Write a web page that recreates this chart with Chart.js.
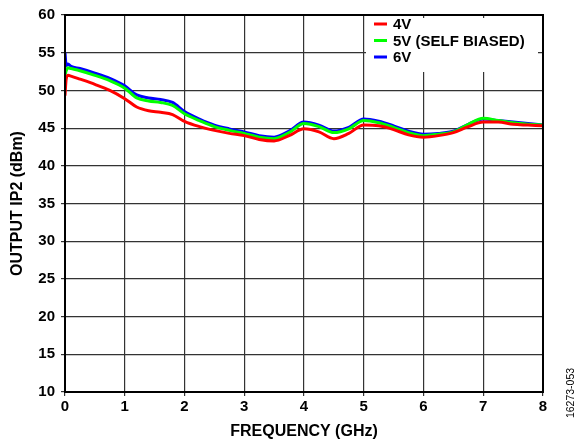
<!DOCTYPE html>
<html>
  <head>
    <title>Output IP2 vs Frequency</title>
    <script src="https://cdn.jsdelivr.net/npm/chart.js@4.4.1/dist/chart.umd.min.js"></script>
    <style>
      body { margin: 0; background: #fff; }
    </style>
  </head>
  <body>
    <canvas id="chart" width="579" height="441"></canvas>

    <script type="text/javascript">

      const freqs = [0, 0.02, 0.05, 0.1, 0.25, 0.5, 0.75, 1.0, 1.2, 1.4, 1.6, 1.8, 2.0, 2.25, 2.5, 2.75, 3.0, 3.25, 3.5, 3.75, 4.0, 4.25, 4.5, 4.75, 5.0, 5.25, 5.5, 5.75, 6.0, 6.25, 6.5, 6.75, 7.0, 7.25, 7.5, 7.75, 8.0];

      const ip2_4v = [49.3, 51.5, 52.0, 51.9, 51.5, 50.8, 50.0, 48.9, 47.8, 47.3, 47.1, 46.8, 45.9, 45.2, 44.7, 44.3, 44.0, 43.5, 43.3, 44.0, 44.9, 44.5, 43.6, 44.3, 45.4, 45.3, 44.8, 44.1, 43.8, 44.0, 44.4, 45.2, 45.8, 45.8, 45.5, 45.4, 45.3];
      const ip2_5v = [52.0, 52.6, 53.0, 52.9, 52.6, 52.0, 51.3, 50.3, 49.0, 48.6, 48.4, 48.0, 46.9, 46.0, 45.2, 44.7, 44.3, 43.8, 43.6, 44.4, 45.6, 45.2, 44.4, 44.9, 46.0, 45.7, 45.1, 44.4, 44.0, 44.2, 44.5, 45.5, 46.3, 46.0, 45.7, 45.5, 45.4];
      const ip2_6v = [55.0, 53.3, 53.5, 53.2, 52.9, 52.3, 51.6, 50.6, 49.4, 49.0, 48.8, 48.4, 47.2, 46.2, 45.4, 44.9, 44.5, 44.0, 43.8, 44.6, 45.8, 45.4, 44.6, 45.1, 46.2, 45.9, 45.3, 44.6, 44.2, 44.3, 44.6, 45.5, 46.2, 46.0, 45.8, 45.6, 45.4];

      const seriesLabels = ['4V', '5V (SELF BIASED)', '6V'];
      const seriesColors = ['#ff0000', '#00ff00', '#0000ff'];

      const font = "'Liberation Sans', Arial, sans-serif";

      function toPoints(ys) {
        return freqs.map((f, i) => ({ x: f, y: ys[i] }));
      }

      // white legend box inside the plot, drawn over the grid
      const boxLegend = {
        id: 'boxLegend',
        beforeDatasetsDraw(chart) {
          const ctx = chart.ctx;
          const a = chart.chartArea;
          ctx.save();
          ctx.fillStyle = '#fff';
          ctx.fillRect(a.right - 177, a.top + 3, 172, 54);
          ctx.font = 'bold 15px ' + font;
          ctx.textBaseline = 'middle';
          chart.data.datasets.forEach((ds, i) => {
            const y = a.top + 9 + i * 16.5;
            ctx.strokeStyle = ds.borderColor;
            ctx.lineWidth = 3;
            ctx.beginPath();
            ctx.moveTo(a.right - 169, y);
            ctx.lineTo(a.right - 156, y);
            ctx.stroke();
            ctx.fillStyle = '#000';
            ctx.fillText(ds.label, a.right - 150, y + 1);
          });
          ctx.restore();
        },
        afterDraw(chart) {
          const ctx = chart.ctx;
          const a = chart.chartArea;
          ctx.save();
          ctx.strokeStyle = '#000';
          ctx.lineWidth = 2;
          ctx.strokeRect(a.left, a.top, a.right - a.left, a.bottom - a.top);
          // figure number on the right edge
          ctx.translate(571, 393);
          ctx.rotate(-Math.PI / 2);
          ctx.font = '10.5px ' + font;
          ctx.fillStyle = '#000';
          ctx.textAlign = 'center';
          ctx.textBaseline = 'middle';
          ctx.fillText('16273-053', 0, 0);
          ctx.restore();
        }
      };

      const ctx = document.getElementById('chart').getContext('2d');

      const myChart = new Chart(ctx, {
        type: 'line',
        data: {
          datasets: [
            { label: seriesLabels[0], data: toPoints(ip2_4v), borderColor: seriesColors[0], backgroundColor: seriesColors[0], borderWidth: 3, pointRadius: 0, cubicInterpolationMode: 'monotone', fill: false },
            { label: seriesLabels[1], data: toPoints(ip2_5v), borderColor: seriesColors[1], backgroundColor: seriesColors[1], borderWidth: 3, pointRadius: 0, cubicInterpolationMode: 'monotone', fill: false },
            { label: seriesLabels[2], data: toPoints(ip2_6v), borderColor: seriesColors[2], backgroundColor: seriesColors[2], borderWidth: 3, pointRadius: 0, cubicInterpolationMode: 'monotone', fill: false }
          ]
        },
        options: {
          responsive: false,
          animation: false,
          layout: { padding: { top: 12, right: 36, left: 0, bottom: 0 } },
          plugins: {
            legend: { display: false },
            tooltip: { enabled: false }
          },
          scales: {
            x: {
              type: 'linear',
              min: 0,
              max: 8,
              ticks: { stepSize: 1, color: '#000', padding: 2, font: { family: font, size: 15, weight: 'bold' } },
              grid: { color: '#333', lineWidth: 1.2, tickLength: 4 },
              border: { color: '#000', width: 2 },
              title: { display: true, text: 'FREQUENCY (GHz)', color: '#000', padding: { top: 4, bottom: 0 }, font: { family: font, size: 16, weight: 'bold' } },
              afterFit(scale) { scale.height = 49; }
            },
            y: {
              min: 10,
              max: 60,
              ticks: { stepSize: 5, color: '#000', padding: 6, font: { family: font, size: 15, weight: 'bold' } },
              grid: { color: '#333', lineWidth: 1.2, tickLength: 4 },
              border: { color: '#000', width: 2 },
              title: { display: true, text: 'OUTPUT IP2 (dBm)', color: '#000', padding: { top: 8, bottom: 0 }, font: { family: font, size: 16, weight: 'bold' } },
              afterFit(scale) { scale.width = 65; }
            }
          }
        },
        plugins: [boxLegend]
      });

    </script>
  </body>
</html>
